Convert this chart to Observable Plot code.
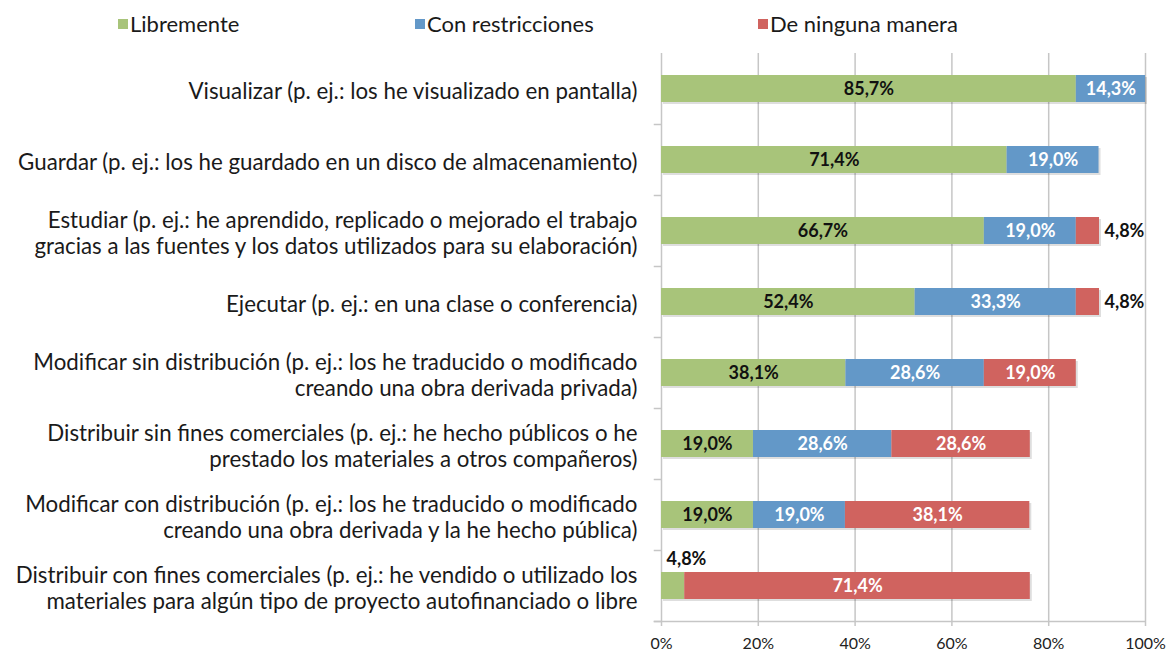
<!DOCTYPE html>
<html><head><meta charset="utf-8">
<script src="https://cdn.jsdelivr.net/npm/d3@7"></script>
<script src="https://cdn.jsdelivr.net/npm/@observablehq/plot@0.6"></script>
<style>
body{margin:0;background:#fff;font-family:Lato,"Open Sans",sans-serif;}
#legend{position:relative;height:50px;width:1166px;}
.item{position:absolute;top:10px;font-size:22px;color:#1a1a1a;display:flex;align-items:center;white-space:nowrap;}
.sw{width:10px;height:10px;margin-right:2px;display:inline-block;}
</style></head><body>
<div id="legend"></div>
<div id="chart"></div>
<script>
const categories = [
  "Visualizar (p. ej.: los he visualizado en pantalla)",
  "Guardar (p. ej.: los he guardado en un disco de almacenamiento)",
  "Estudiar (p. ej.: he aprendido, replicado o mejorado el trabajo\ngracias a las fuentes y los datos utilizados para su elaboración)",
  "Ejecutar (p. ej.: en una clase o conferencia)",
  "Modificar sin distribución (p. ej.: los he traducido o modificado\ncreando una obra derivada privada)",
  "Distribuir sin fines comerciales (p. ej.: he hecho públicos o he\nprestado los materiales a otros compañeros)",
  "Modificar con distribución (p. ej.: los he traducido o modificado\ncreando una obra derivada y la he hecho pública)",
  "Distribuir con fines comerciales (p. ej.: he vendido o utilizado los\nmateriales para algún tipo de proyecto autofinanciado o libre"
];
const series = ["Libremente", "Con restricciones", "De ninguna manera"];
const libremente       = [85.7, 71.4, 66.7, 52.4, 38.1, 19.0, 19.0, 4.8];
const conRestricciones = [14.3, 19.0, 19.0, 33.3, 28.6, 28.6, 19.0, 0];
const deNingunaManera  = [0, 0, 4.8, 4.8, 19.0, 28.6, 38.1, 71.4];
const colors = ["#a8c47a", "#6398c8", "#d0635f"];
const labelColors = ["#111111", "#ffffff", "#ffffff"];
const xTicks = [0, 20, 40, 60, 80, 100];

const values = [libremente, conRestricciones, deNingunaManera];
const data = [];
const totals = [];
categories.forEach((c, i) => {
  let cum = 0;
  series.forEach((s, j) => {
    const v = values[j][i];
    data.push({cat: c, series: s, si: j, value: v, start: cum, end: cum + v});
    cum += v;
  });
  totals.push({cat: c, total: cum});
});
const fmt = v => v.toFixed(1).replace(".", ",") + "%";

// legend
const legend = document.getElementById("legend");
const legendX = [118, 415, 758];
series.forEach((s, j) => {
  const d = document.createElement("div");
  d.className = "item";
  d.style.left = legendX[j] + "px";
  d.innerHTML = `<span class="sw" style="background:${colors[j]}"></span>${s}`;
  legend.appendChild(d);
});

const W = 1166, H = 604, mt = 3, mb = 33, ml = 661, mr = 21;
const step = (H - mt - mb) / categories.length;
const barH = 27;
const inset = (step - barH) / 2;
const grid = "#c6c6c6";

const bars = data.filter(d => d.value > 0);
const inside = bars.filter(d => d.value >= 10);
const outsideRight = bars.filter(d => d.value < 10 && d.si === 2);
const outsideAbove = bars.filter(d => d.value < 10 && d.si === 0);

const chart = Plot.plot({
  width: W, height: H,
  marginTop: mt, marginBottom: mb, marginLeft: ml, marginRight: mr,
  style: {fontFamily: "Lato, 'Open Sans', sans-serif", background: "#fff"},
  x: {domain: [0, 100], ticks: xTicks, tickFormat: d => d + "%"},
  y: {domain: categories, padding: 0, axis: null},
  marks: [
    Plot.gridX(xTicks, {stroke: grid, strokeOpacity: 1, strokeWidth: 1.5}),
    Plot.ruleY(categories, {y: d => d, x1: -1.5, x2: 0, dy: step / 2, stroke: grid, strokeWidth: 1.5}),
    Plot.ruleY([categories[categories.length - 1]], {y: d => d, x1: -1.5, x2: 100, dy: step / 2, stroke: grid, strokeWidth: 1.5}),
    Plot.axisX(xTicks, {tickSize: 5, tickPadding: 11, stroke: grid, strokeWidth: 1.5, fontSize: 16, color: "#222", tickFormat: d => d + "%", label: null}),
    Plot.barX(totals, {x1: 0, x2: "total", y: "cat", fill: "#000", fillOpacity: 0.13, dx: 2, dy: 2, insetTop: inset, insetBottom: inset}),
    Plot.barX(bars, {x1: "start", x2: "end", y: "cat", fill: d => colors[d.si], insetTop: inset, insetBottom: inset}),
    Plot.text(inside, {x: d => (d.start + d.end) / 2, y: "cat", text: d => fmt(d.value), fill: d => labelColors[d.si], fontSize: 18, fontWeight: "bold"}),
    Plot.text(outsideRight, {x: "end", y: "cat", text: d => fmt(d.value), dx: 5, textAnchor: "start", fill: "#111", fontSize: 18, fontWeight: "bold"}),
    Plot.text(outsideAbove, {x: "start", y: "cat", text: d => fmt(d.value), dx: 5, dy: -27, textAnchor: "start", fill: "#111", fontSize: 18, fontWeight: "bold"}),
    Plot.text(categories, {x: 0, y: d => d, text: d => d, dx: -24, dy: 2, textAnchor: "end", fontSize: 22.3, lineHeight: 1.13, fill: "#1a1a1a"})
  ]
});
document.getElementById("chart").appendChild(chart);
</script>
</body></html>
